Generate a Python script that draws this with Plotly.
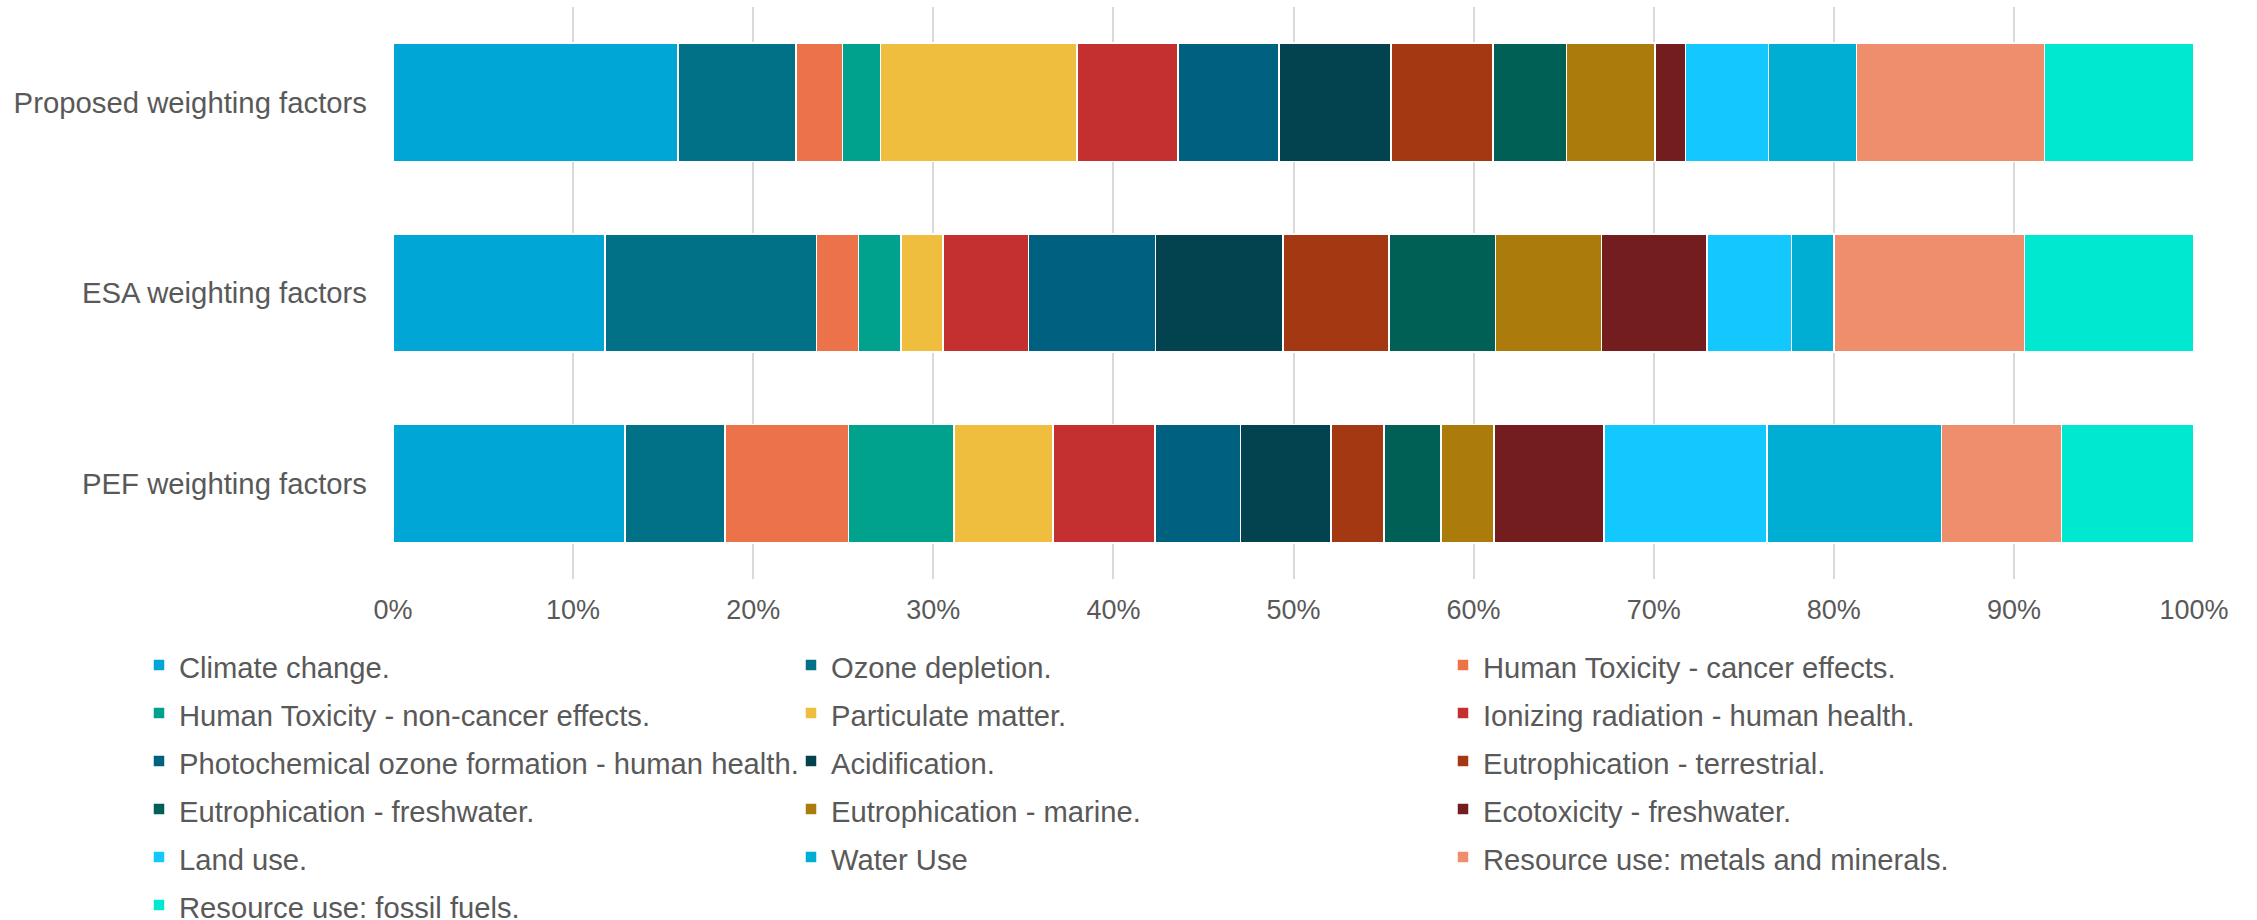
import plotly.graph_objects as go

scenarios = ["PEF weighting factors", "ESA weighting factors", "Proposed weighting factors"]

categories = [
    "Climate change.", "Ozone depletion.", "Human Toxicity - cancer effects.",
    "Human Toxicity - non-cancer effects.", "Particulate matter.", "Ionizing radiation - human health.",
    "Photochemical ozone formation - human health.", "Acidification.", "Eutrophication - terrestrial.",
    "Eutrophication - freshwater.", "Eutrophication - marine.", "Ecotoxicity - freshwater.",
    "Land use.", "Water Use", "Resource use: metals and minerals.", "Resource use: fossil fuels.",
]

# shares (%) per scenario, in category order
pef = [12.87, 5.57, 6.84, 5.86, 5.50, 5.67, 4.76, 5.01, 2.94, 3.16, 2.96, 6.09, 9.06, 9.70, 6.65, 7.36]
esa = [11.76, 11.76, 2.34, 2.35, 2.34, 4.73, 7.07, 7.06, 5.90, 5.90, 5.89, 5.86, 4.69, 2.35, 10.59, 9.41]
proposed = [15.83, 6.55, 2.57, 2.12, 10.91, 5.60, 5.61, 6.22, 5.66, 4.08, 4.92, 1.69, 4.62, 4.89, 10.42, 8.31]

colors = [
    "#00A6D6", "#007187", "#EC7349", "#00A28D", "#F0BE3F", "#C3302F",
    "#00607F", "#034350", "#A43812", "#006055", "#AB7C0B", "#741D1E",
    "#13C8FF", "#00AED3", "#EF8E6C", "#00E8D0",
]

fig = go.Figure()
for i, cat in enumerate(categories):
    fig.add_trace(go.Bar(
        y=scenarios,
        x=[pef[i], esa[i], proposed[i]],
        name=f"<span style='font-size:29.2px'>{cat}</span>",
        orientation="h",
        marker=dict(color=colors[i], line=dict(color="white", width=1.5)),
        hoverinfo="skip",
    ))

W, H = 2257, 920
L, R, T, B = 393, 63, 7, 341
pw, ph = W - L - R, H - T - B

fig.update_layout(
    width=W, height=H,
    barmode="stack",
    bargap=0.38,
    plot_bgcolor="white",
    paper_bgcolor="white",
    margin=dict(l=L, r=R, t=T, b=B, autoexpand=False),
    font=dict(family="Liberation Sans, Arial, sans-serif", size=28, color="#595959"),
    xaxis=dict(
        range=[0, 100], dtick=10, ticksuffix="%",
        showgrid=True, gridcolor="#D9D9D9", gridwidth=1.5,
        zeroline=False, showline=False,
        tickfont=dict(size=27, color="#595959"),
        ticklabelstandoff=12,
        fixedrange=True,
    ),
    yaxis=dict(
        showgrid=False, zeroline=False, showline=False,
        tickfont=dict(size=29.3, color="#595959"),
        ticklabelstandoff=25,
        fixedrange=True,
    ),
    legend=dict(
        orientation="h",
        x=(139 - L) / pw, xanchor="left",
        y=((T + ph) - 636) / ph, yanchor="top",
        font=dict(size=34.6, color="#595959"),
        entrywidth=607, entrywidthmode="pixels",
        traceorder="normal",
        bgcolor="rgba(0,0,0,0)",
    ),
    showlegend=True,
)

fig.write_html("out.html")
